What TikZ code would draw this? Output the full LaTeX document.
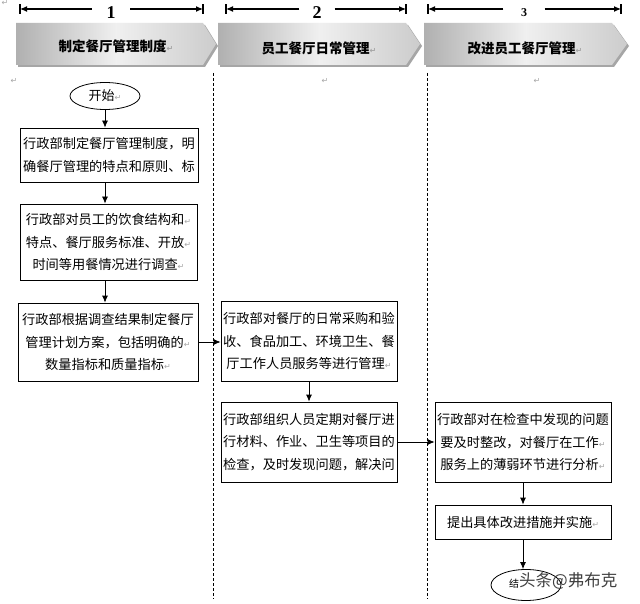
\documentclass[tikz,border=0pt]{standalone}
\usepackage{fontspec}
\setmainfont{Noto Sans CJK SC}
\newfontfamily\numfont{Liberation Serif}
\newfontfamily\symfont{DejaVu Sans}
\usetikzlibrary{shapes.geometric,shadows,arrows.meta}
\newcommand\retmk{{\symfont\fontsize{8}{8}\selectfont\color{gray!70}↵}}
\begin{document}
\begin{tikzpicture}[x=1pt,y=-1pt,
  box/.style={draw, line width=0.8pt, inner sep=1pt, align=center,
    font=\fontsize{13.2}{22.5}\selectfont},
  flow/.style={line width=0.8pt, -{Latex[length=7pt,width=6pt]}},
  harrow/.style={line width=1.1pt, -{Latex[length=7pt,width=6pt]}},
  bar/.style={line width=1.3pt},
  num/.style={inner sep=0pt, font=\numfont\bfseries},
  chev/.style={left color=gray!62, right color=gray!40, middle color=gray!12,
    drop shadow={shadow xshift=2pt, shadow yshift=-2pt, fill=gray!70, opacity=1}},
  chevtext/.style={font=\fontsize{13.5}{14}\selectfont\bfseries},
  oval/.style={draw, ellipse, line width=0.8pt, inner sep=0pt},
  lane/.style={line width=0.8pt, dash pattern=on 3pt off 2pt},
  pmark/.style={inner sep=0pt}]
\useasboundingbox (0,0) rectangle (640,604);
\fill[white] (0,0) rectangle (640,604);

% header arrows
\coordinate (h1l) at (20,9);  \coordinate (h1r) at (203,9);
\coordinate (h2l) at (226,9); \coordinate (h2r) at (406,9);
\coordinate (h3l) at (428,9); \coordinate (h3r) at (621,9);
\node[num, font=\numfont\bfseries\fontsize{18}{18}\selectfont, minimum width=38pt] (n1) at (111,13) {1};
\node[num, font=\numfont\bfseries\fontsize{18}{18}\selectfont, minimum width=35pt] (n2) at (317,13) {2};
\node[num, font=\numfont\bfseries\fontsize{12}{12}\selectfont, minimum width=41pt] (n3) at (524,13) {3};
\draw[harrow] (n1.west |- h1l) -- (h1l);
\draw[harrow] (n1.east |- h1r) -- (h1r);
\draw[harrow] (n2.west |- h2l) -- (h2l);
\draw[harrow] (n2.east |- h2r) -- (h2r);
\draw[harrow] (n3.west |- h3l) -- (h3l);
\draw[harrow] (n3.east |- h3r) -- (h3r);
\foreach \c in {h1l,h1r,h2l,h2r,h3l,h3r}{
  \draw[bar] ([yshift=-5pt]\c) -- ([yshift=5pt]\c);
}

% chevrons
\path[chev] (16,23) -- (203,23) -- (216,44) -- (203,65) -- (16,65) -- cycle;
\path[chev] (218,23) -- (406,23) -- (420,44) -- (406,65) -- (218,65) -- cycle;
\path[chev] (424,23) -- (612,23) -- (627,44) -- (612,65) -- (424,65) -- cycle;
\node[chevtext] (c1) at (116,46) {制定餐厅管理制度\retmk};
\node[chevtext] (c2) at (319,48) {员工餐厅日常管理\retmk};
\node[chevtext] (c3) at (525,48) {改进员工餐厅管理\retmk};

% frame and lanes
\draw[line width=0.6pt, double, double distance=1.4pt] (3,71) rectangle (637,601);
\draw[lane] (213,73) -- (213,599);
\draw[lane] (427,73) -- (427,599);

% paragraph marks
\node[pmark] (m0) at (5,3) {\retmk};
\node[pmark] (m1) at (14,81) {\retmk};
\node[pmark] (m2) at (325,81) {\retmk};
\node[pmark] (m3) at (537,81) {\retmk};

% lane 1
\node[oval, minimum width=70pt, minimum height=27pt, font=\fontsize{13}{14}\selectfont] (start) at (105,96) {开始\retmk};
\node[box, minimum width=178pt, minimum height=54pt, text width=176pt] (b1) at (109,155)
  {行政部制定餐厅管理制度，明\\确餐厅管理的特点和原则、标};
\node[box, minimum width=177pt, minimum height=76pt, text width=175pt] (b2) at (108.5,242)
  {行政部对员工的饮食结构和\retmk\\特点、餐厅服务标准、开放\retmk\\时间等用餐情况进行调查\retmk};
\node[box, minimum width=180pt, minimum height=78pt, text width=178pt] (b3) at (108,342)
  {行政部根据调查结果制定餐厅\\管理计划方案，包括明确的\retmk\\数量指标和质量指标\retmk};

% lane 2
\node[box, minimum width=176pt, minimum height=80pt, text width=174pt] (b4) at (309,341)
  {行政部对餐厅的日常采购和验\\收、食品加工、环境卫生、餐\\厅工作人员服务等进行管理\retmk};
\node[box, minimum width=176pt, minimum height=80pt, text width=174pt] (b5) at (309,442)
  {行政部组织人员定期对餐厅进\\行材料、作业、卫生等项目的\\检查，及时发现问题，解决问};

% lane 3
\node[box, minimum width=176pt, minimum height=80pt, text width=174pt] (b6) at (523,442)
  {行政部对在检查中发现的问题\\要及时整改，对餐厅在工作\retmk\\服务上的薄弱环节进行分析\retmk};
\node[box, minimum width=176pt, minimum height=34pt, text width=174pt] (b7) at (523,522)
  {提出具体改进措施并实施\retmk};
\node[oval, minimum width=70pt, minimum height=31pt] (end) at (526,585) {};
\node[inner sep=0pt, font=\fontsize{10}{10}\selectfont] (endt) at (514,584) {结};
\node[inner sep=0pt, font=\fontsize{16.5}{17}\selectfont, text=black!75, anchor=west] (wm) at (519,581) {头条@弗布克};

% connectors
\draw[flow] (start) -- (start |- b1.north);
\draw[flow] (start |- b1.south) -- (start |- b2.north);
\draw[flow] (start |- b2.south) -- (start |- b3.north);
\draw[flow] (b3.east) -- (b4.west |- b3.east);
\draw[flow] (b4.south) -- (b5.north);
\draw[flow] (b5.east) -- (b6.west |- b5.east);
\draw[flow] (b6.south) -- (b7.north);
\draw[flow] (b7.south) -- (b7.south |- end.north);
\end{tikzpicture}
\end{document}
